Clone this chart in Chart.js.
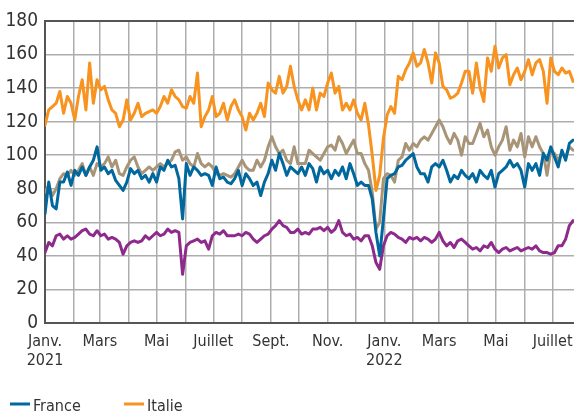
<!DOCTYPE html>
<html><head><meta charset="utf-8">
<script src="https://cdn.jsdelivr.net/npm/chart.js@4"></script>
<style>html,body{margin:0;padding:0;background:#fff;overflow:hidden}#wrap{width:574px;height:414px}</style>
</head><body><div id="wrap"><canvas id="c" width="574" height="414"></canvas></div>
<script>
// Sample days (offset from 1 Jan 2021), every 4 days
const days = Array.from({length: 143}, (_, i) => i * 4);

const france = [
65,84,70,68,84,84,90,82,91,88,93,88,93,97,105,91,93,89,91,85,82,79,84,92,89,91,86,88,84,89,84,93,91,97,93,94,
86,62,95,88,93,91,88,89,88,82,93,86,87,84,83,86,91,82,89,86,82,84,76,84,89,97,91,101,95,88,93,91,89,93,88,95,92,
84,93,89,91,86,91,88,93,86,95,89,82,84,82,82,74,54,40,62,86,88,89,93,94,97,99,101,93,89,89,84,93,95,93,97,
91,84,88,86,91,88,86,89,84,91,88,86,91,81,89,91,93,97,93,95,91,81,95,91,95,88,101,97,105,99,93,103,97,107,109
];
const italie = [
118,127,129,131,138,125,135,131,121,135,145,127,155,131,145,139,141,133,127,125,117,121,133,121,125,131,123,125,126,127,125,129,135,131,139,135,
133,129,128,135,131,149,117,123,127,135,123,125,131,121,129,133,127,123,115,125,121,125,131,123,143,139,137,147,137,141,153,141,133,127,133,127,140,
127,137,135,143,149,137,141,127,131,127,133,125,121,131,118,100,79,88,110,124,129,125,147,145,151,155,161,153,155,163,155,143,161,155,141,
139,134,135,137,143,150,150,137,155,140,132,158,150,165,152,158,160,142,148,152,145,150,157,148,155,157,150,131,158,150,148,152,149,150,144
];
const allemagne = [
78,82,76,80,86,89,88,91,88,91,95,88,93,88,95,93,95,99,93,97,89,88,93,97,99,93,89,91,93,91,93,95,93,95,97,102,
103,97,99,95,93,101,95,93,95,93,89,88,89,88,87,89,93,97,93,91,91,97,93,97,105,111,105,101,103,97,95,105,95,95,95,103,101,
99,97,101,105,106,103,111,107,101,105,109,101,101,95,91,78,56,60,86,89,88,84,97,99,107,103,107,105,109,111,109,113,117,121,117,
111,107,113,109,100,111,107,107,113,119,111,115,105,100,105,109,117,103,109,105,113,99,111,105,111,105,101,88,103,101,97,101,99,105,103
];
const espagne = [
42,48,46,52,53,50,52,50,51,53,55,56,53,52,55,52,53,50,51,50,48,41,46,48,49,48,49,52,50,52,54,52,53,56,54,55,
54,29,46,48,49,50,48,49,44,52,54,53,55,52,52,52,53,52,54,53,50,48,50,52,53,56,58,61,58,57,54,54,56,53,54,53,56,
56,57,55,57,54,56,61,54,52,53,50,51,49,52,52,46,36,32,46,52,54,53,51,50,48,51,50,51,49,51,50,48,50,54,49,
46,48,45,49,50,48,46,44,45,43,46,45,48,44,42,44,45,43,44,45,43,44,45,44,46,43,42,42,41,42,46,46,50,58,61
];

const monthStarts = [0,31,59,90,120,151,181,212,243,273,304,334,365,396,424,455,485,516,546];
const monthLabels = [['Janv.','2021'],'','Mars','','Mai','','Juillet','','Sept.','','Nov.','',['Janv.','2022'],'','Mars','','Mai','','Juillet'];
const yTicks = [0,20,40,60,80,100,120,140,160,180];

const FONT = "'Liberation Sans Narrow','Arial Narrow','DejaVu Sans Condensed',sans-serif";

function pts(arr){ return days.map((d,i)=>({x:d,y:arr[i]})); }

const legendPlugin = {
  id:'customLegend',
  afterDraw(chart){
    const c = chart.ctx;
    const items = [{i:0,x:10},{i:1,x:124}];
    c.save();
    c.font = "16px " + FONT;
    c.textBaseline = 'alphabetic';
    c.fillStyle = '#333';
    items.forEach(it=>{
      const ds = chart.data.datasets[it.i];
      c.strokeStyle = ds.borderColor;
      c.lineWidth = 3;
      c.beginPath(); c.moveTo(it.x, 404); c.lineTo(it.x+20, 404); c.stroke();
      c.fillText(ds.label, it.x+23, 411);
    });
    c.restore();
  }
};

new Chart(document.getElementById('c'), {
  type:'line',
  data:{datasets:[
    {label:'France', data:pts(france), borderColor:'#00689e', backgroundColor:'#00689e'},
    {label:'Italie', data:pts(italie), borderColor:'#f7931e', backgroundColor:'#f7931e'},
    {label:'Allemagne', data:pts(allemagne), borderColor:'#a89476', backgroundColor:'#a89476'},
    {label:'Espagne', data:pts(espagne), borderColor:'#8d2a8c', backgroundColor:'#8d2a8c'}
  ]},
  options:{
    responsive:false, animation:false,
    layout:{padding:{top:21,right:0,left:0,bottom:0}},
    plugins:{legend:{display:false}, tooltip:{enabled:false}},
    elements:{point:{radius:0}, line:{borderWidth:3, tension:0, borderJoinStyle:'round', borderCapStyle:'round'}},
    scales:{
      x:{type:'linear', min:0, max:569,
        afterBuildTicks: s=>{ s.ticks = monthStarts.map(v=>({value:v})); },
        ticks:{autoSkip:false, maxRotation:0, minRotation:0, padding:9, font:{family:FONT,size:16}, color:'#333',
          callback:(v,i)=>monthLabels[i]},
        grid:{color:'#adadad', lineWidth:1.5, drawTicks:false},
        border:{color:'#555', width:2},
        afterFit: s=>{ s.height = 91; s.paddingLeft = 0; s.paddingRight = 0; }
      },
      y:{min:0, max:180,
        afterBuildTicks: s=>{ s.ticks = yTicks.map(v=>({value:v})); },
        ticks:{padding:7, font:{family:FONT,size:19}, color:'#333'},
        grid:{color: c=> (c.tick && c.tick.value===180) ? '#555' : '#adadad', lineWidth: c=> (c.tick && c.tick.value===180) ? 2 : 1.5, drawTicks:false},
        border:{color:'#555', width:2},
        afterFit: s=>{ s.width = 45; s.paddingTop = 0; s.paddingBottom = 0; }
      }
    }
  },
  plugins:[legendPlugin]
});
</script></body></html>
